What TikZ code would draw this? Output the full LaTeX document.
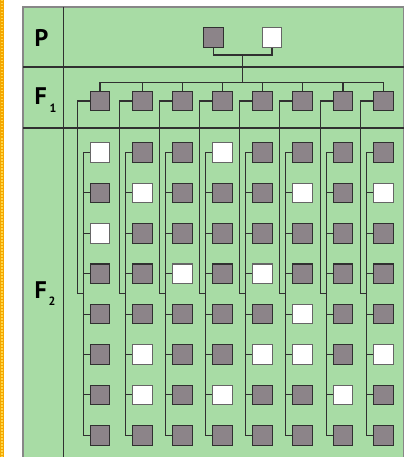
\documentclass[tikz,border=0pt]{standalone}
\usepackage{fontspec}
\newfontfamily\labfont{PT Sans}
\usetikzlibrary{calc}
\definecolor{gbg}{RGB}{168,220,165}
\definecolor{boxgray}{RGB}{140,132,137}
\definecolor{ink}{RGB}{48,48,48}
\definecolor{frame}{RGB}{135,135,135}
\definecolor{orangestrip}{RGB}{245,168,0}
\definecolor{dotyellow}{RGB}{255,214,70}
\begin{document}
\begin{tikzpicture}[x=1pt,y=-1pt,
  ind/.style={draw=ink, line width=1.1pt, minimum size=19.5pt, inner sep=0pt},
  aff/.style={ind, fill=boxgray},
  unaff/.style={ind, fill=white, draw=black!60},
  s0/.style={aff}, s1/.style={unaff},
  link/.style={draw=ink, line width=1.1pt},
  gridline/.style={draw=ink, line width=1.1pt},
  lab/.style={font=\labfont\bfseries\fontsize{24}{24}\selectfont, anchor=base west, inner sep=0pt},
  sublab/.style={font=\labfont\bfseries\fontsize{12}{12}\selectfont, anchor=base west, inner sep=0pt}]
\useasboundingbox (0,0) rectangle (406,457);
\fill[white] (0,0) rectangle (406,457);
\fill[orangestrip] (0,0) rectangle (4,457);
\draw[dotyellow, line width=2pt, dash pattern=on 1.5pt off 1.5pt] (2,0) -- (2,457);
% table
\fill[gbg] (23,7) rectangle (403.5,457);
\draw[frame, line width=1.2pt] (23,457) -- (23,7) -- (403.5,7) -- (403.5,457);
\draw[gridline] (23,67) -- (403.5,67) (23,128) -- (403.5,128) (63.5,7) -- (63.5,457);
% labels
\node[lab] (lP) at (34.5,46.7) {P};
\node[lab] (lF1) at (34.5,104.3) {F};
\node[sublab] (lF1s) at (49.5,112.5) {1};
\node[lab] (lF2) at (34.5,298.3) {F};
\node[sublab] (lF2s) at (48.5,305) {2};
% parents
\node[aff] (pg) at (213.5,37.5) {};
\node[unaff] (pw) at (272,37.5) {};
% F1
\foreach \x [count=\i] in {100,142.5,182.5,222.5,262.5,302.5,343,383.5}
  \node[aff] (f\i) at (\x,101) {};
% F2
\foreach \pat [count=\i] in {{1,0,1,0,0,0,0,0},{0,1,0,0,0,1,1,0},{0,0,0,1,0,0,0,0},{1,0,0,0,0,0,1,0},{0,0,0,1,0,1,0,0},{0,1,0,0,1,1,0,0},{0,0,0,0,0,0,1,0},{0,1,0,0,0,1,0,0}}
  \foreach \w [count=\j] in \pat
    \node[s\w] (c\i\j) at ($(f\i)+(0,{51.5+40.4*(\j-1)})$) {};
% parent links
\coordinate (pbar) at ($(pg.south)!0.5!(pw.south)+(0,7.2)$);
\coordinate (bus) at ($(f1.north)+(0,-8)$);
\draw[link] (pg.south) |- (pbar) -| (pw.south);
\draw[link] (pbar) -- (pbar |- bus);
\draw[link] (f1.north) -- (bus) -| (f8.north);
\foreach \i in {2,...,7} \draw[link] (f\i.north) -- (f\i.north |- bus);
% sibships
\coordinate (jog) at ($(c14)!0.5!(c15)$);
\foreach \i in {1,...,8} {
  \coordinate (s\i) at ($(c\i1.west)+(-6.5,0)$);
  \draw[link] (c\i1.west) -- (s\i) |- (c\i8.west);
  \foreach \j in {2,...,7} \draw[link] (c\i\j.west) -- (c\i\j.west -| s\i);
  \draw[link] (f\i.west) -- ++(-12.5,0) |- (s\i |- jog);
}
% redraw boxes on top
\node[aff] at (pg) {};
\node[unaff] at (pw) {};
\end{tikzpicture}
\end{document}
